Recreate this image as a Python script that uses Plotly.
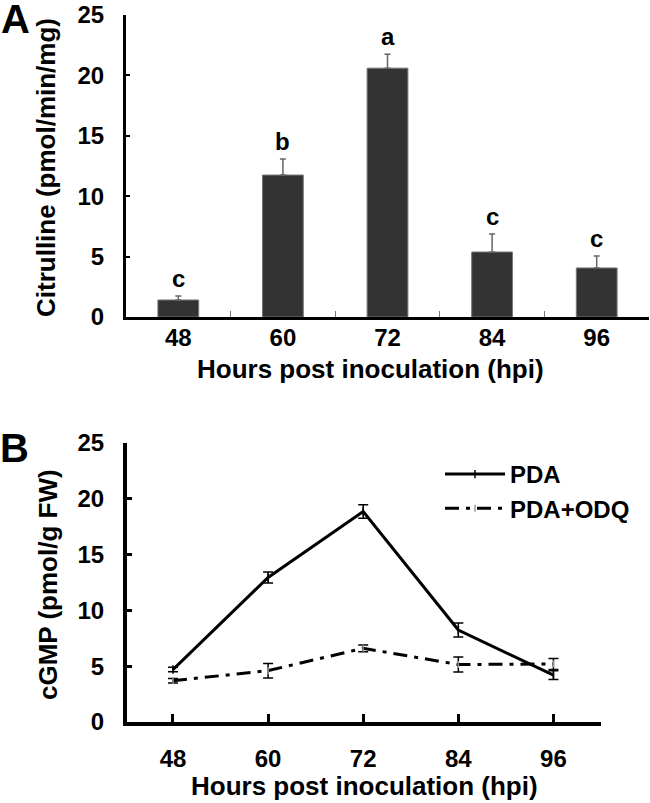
import plotly.graph_objects as go

# Panel A: citrulline by hpi
hours_a = ["48", "60", "72", "84", "96"]
citrulline = [1.41, 11.75, 20.6, 5.38, 4.06]
citrulline_err = [0.33, 1.33, 1.16, 1.49, 0.99]
letters = ["c", "b", "a", "c", "c"]

# Panel B: cGMP by hpi
hours_b = [48, 60, 72, 84, 96]
pda = [4.7, 12.95, 18.86, 8.24, 4.2]
pda_err = [0.2, 0.5, 0.6, 0.63, 0.4]
odq = [3.7, 4.6, 6.6, 5.15, 5.2]
odq_err = [0.2, 0.65, 0.3, 0.67, 0.5]

W, H = 650, 803
FONT = "Liberation Sans, Arial, sans-serif"


def px_x(x):
    return x / W


def px_y(y):
    return 1 - y / H


fig = go.Figure()

fig.add_trace(go.Bar(
    x=hours_a, y=citrulline, width=0.39,
    marker=dict(color="#333333", line=dict(color="#777777", width=1)),
    error_y=dict(type="data", array=citrulline_err,
                 arrayminus=[0] * len(citrulline_err),
                 color="#666666", thickness=1.5, width=3),
    xaxis="x", yaxis="y", showlegend=False,
))

fig.add_trace(go.Scatter(
    x=hours_b, y=pda, name="PDA", mode="lines+markers",
    line=dict(color="black", width=3),
    marker=dict(symbol="line-ns-open", size=6, color="black",
                line=dict(color="black", width=1.5)),
    error_y=dict(type="data", array=pda_err, color="black",
                 thickness=1.5, width=5),
    xaxis="x2", yaxis="y2",
))

fig.add_trace(go.Scatter(
    x=hours_b, y=odq, name="PDA+ODQ", mode="lines+markers",
    line=dict(color="black", width=3, dash="14px,7px,4px,7px"),
    marker=dict(symbol="line-ns-open", size=5, color="#999999",
                line=dict(color="#999999", width=1.5)),
    error_y=dict(type="data", array=odq_err, color="black",
                 thickness=1.5, width=5),
    xaxis="x2", yaxis="y2",
))

# significance letters above the error bars (category index as x)
for i, (v, e, t) in enumerate(zip(citrulline, citrulline_err, letters)):
    fig.add_annotation(x=i, y=v + e, text=t, xref="x", yref="y",
                       showarrow=False, yanchor="bottom", yshift=2,
                       font=dict(size=24, family=FONT, color="black", weight="bold"))

# panel labels and axis titles
notes = [
    ("A", 15, 19, 40, 0),
    ("B", 14, 448, 40, 0),
    ("Citrulline (pmol/min/mg)", 46, 168, 26, -90),
    ("Hours post inoculation (hpi)", 370, 369, 26, 0),
    ("cGMP (pmol/g FW)", 48, 585, 26, -90),
    ("Hours post inoculation (hpi)", 364, 786, 26, 0),
]
for t, x, y, s, ang in notes:
    fig.add_annotation(x=px_x(x), y=px_y(y), xref="paper", yref="paper",
                       text=t, showarrow=False, textangle=ang,
                       xanchor="center", yanchor="middle",
                       font=dict(size=s, family=FONT, color="black", weight="bold"))

tickfont = dict(size=24, family=FONT, color="black", weight="bold")
common = dict(showline=True, linecolor="black", showgrid=False,
              zeroline=False, tickfont=tickfont, automargin=False)

fig.update_layout(
    width=W, height=H,
    margin=dict(l=0, r=0, t=0, b=0, autoexpand=False),
    paper_bgcolor="white", plot_bgcolor="white",
    font=dict(family=FONT, color="black", weight="bold"),
    xaxis=dict(domain=[px_x(126), px_x(649)], anchor="y",
               range=[-0.5, 4.5], tickson="boundaries",
               ticks="inside", ticklen=6, tickwidth=1, tickcolor="#777777",
               linewidth=3, ticklabelstandoff=-3, **common),
    yaxis=dict(domain=[px_y(317), px_y(15)], anchor="x",
               range=[0, 25], tickvals=[0, 5, 10, 15, 20, 25],
               ticks="inside", ticklen=4, tickwidth=1.5, tickcolor="black",
               linewidth=3, ticklabelstandoff=14, **common),
    xaxis2=dict(domain=[px_x(127), px_x(601)], anchor="y2",
                range=[42.2, 102], tickvals=hours_b,
                ticks="inside", ticklen=8, tickwidth=3, tickcolor="black",
                linewidth=4, ticklabelstandoff=12, **common),
    yaxis2=dict(domain=[px_y(722), px_y(443)], anchor="x2",
                range=[0, 25], tickvals=[0, 5, 10, 15, 20, 25],
                ticks="inside", ticklen=5, tickwidth=3, tickcolor="black",
                linewidth=4, ticklabelstandoff=14, **common),
    legend=dict(x=px_x(440), y=px_y(452), xanchor="left", yanchor="top",
                bgcolor="rgba(0,0,0,0)", itemwidth=60, tracegroupgap=6,
                font=dict(size=24, family=FONT, color="black", weight="bold")),
)

# drop the browser's default body margin so the figure sits at 0,0
fig.write_html("out.html", config={"displayModeBar": False},
               post_script="document.body.style.margin='0';")
